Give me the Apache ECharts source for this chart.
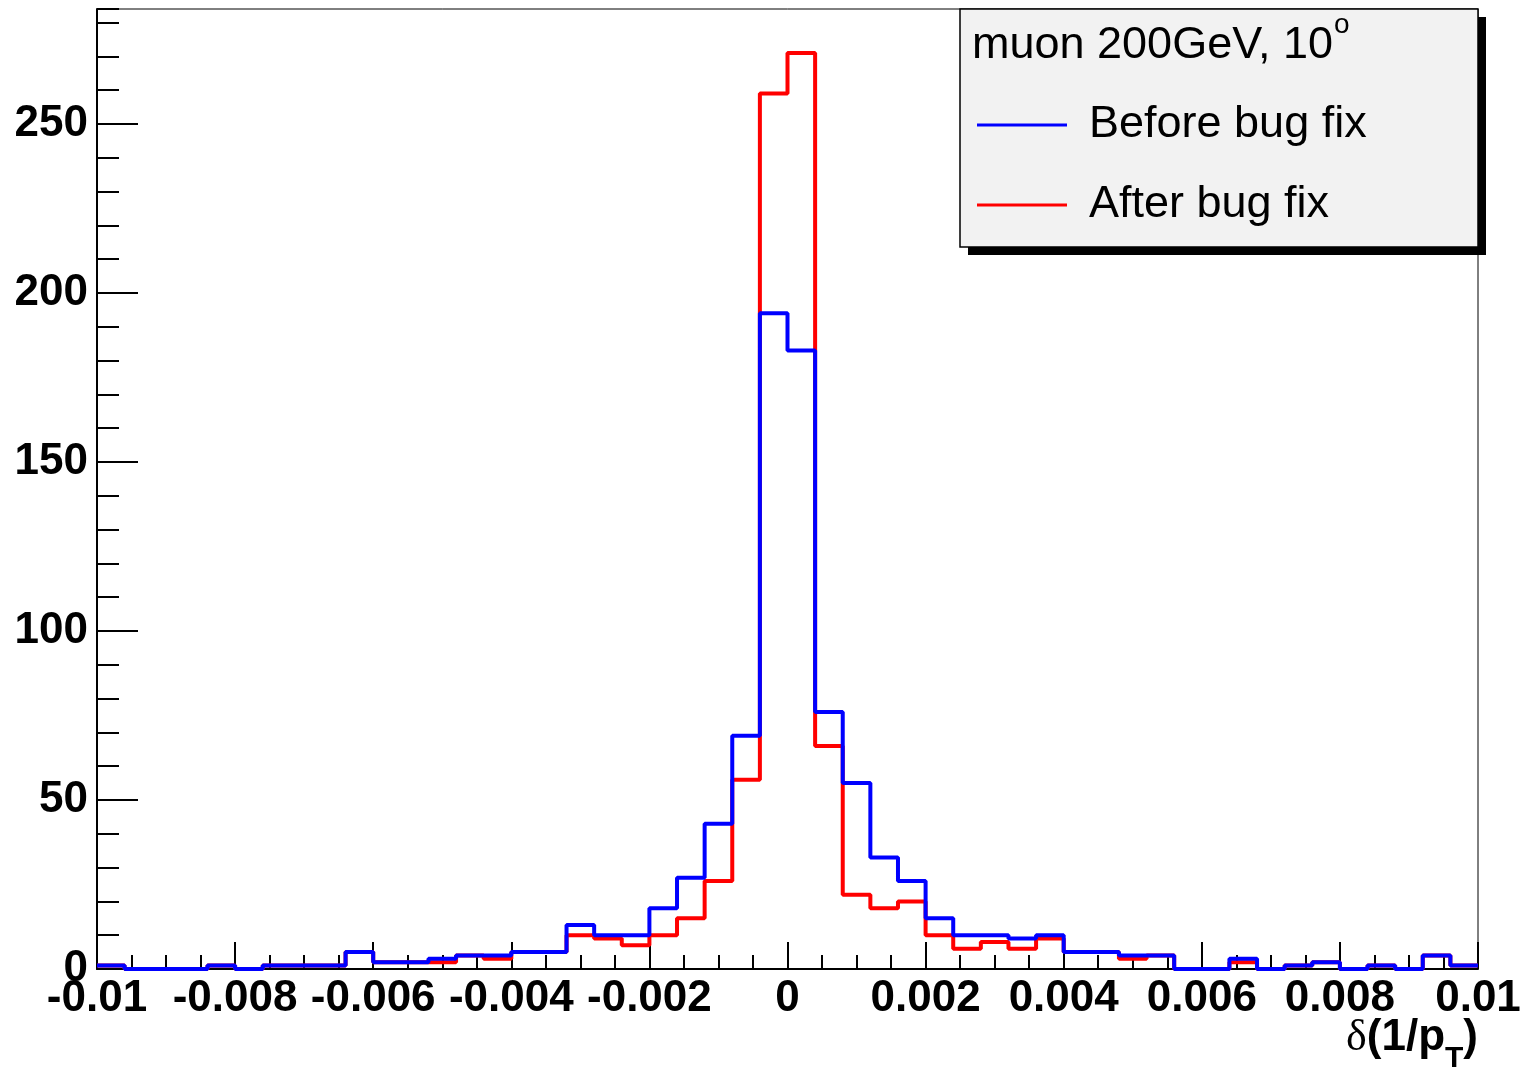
<!DOCTYPE html>
<html>
<head>
<meta charset="utf-8">
<script src="https://cdn.jsdelivr.net/npm/echarts@6/dist/echarts.min.js"></script>
<style>
  html, body { margin: 0; padding: 0; background: #fff; }
  #chart { width: 1526px; height: 1071px; }
</style>
</head>
<body>
<div id="chart"></div>
<script>
// Histogram binning: 50 equal bins over [-0.01, 0.01]
const X_MIN = -0.01;
const X_MAX = 0.01;
const BIN_WIDTH = 0.0004;
const Y_MAX = 284;

// Bin contents, delta(1/pT) resolution, muon 200 GeV at 10 degrees
const beforeFix = [
  1, 0, 0, 0, 1, 0, 1, 1, 1, 5,
  2, 2, 3, 4, 4, 5, 5, 13, 10, 10,
  18, 27, 43, 69, 194, 183, 76, 55, 33, 26,
  15, 10, 10, 9, 10, 5, 5, 4, 4, 0,
  0, 3, 0, 1, 2, 0, 1, 0, 4, 1
];
const afterFix = [
  1, 0, 0, 0, 1, 0, 1, 1, 1, 5,
  2, 2, 2, 4, 3, 5, 5, 10, 9, 7,
  10, 15, 26, 56, 259, 271, 66, 22, 18, 20,
  10, 6, 8, 6, 9, 5, 5, 3, 4, 0,
  0, 2, 0, 1, 2, 0, 1, 0, 4, 1
];

const seriesNames = ['Before bug fix', 'After bug fix'];
const legendTitle = 'muon 200GeV, 10';
const legendTitleSup = 'o';

// Step outline: one point per bin low edge, plus the upper edge of the last bin
function stepPoints(counts) {
  const pts = counts.map((c, i) => [X_MIN + i * BIN_WIDTH, c]);
  pts.push([X_MAX, counts[counts.length - 1]]);
  return pts;
}

const SANS = 'Liberation Sans, Arial, Helvetica, sans-serif';
const SERIF = 'Liberation Serif, DejaVu Serif, serif';

const chart = echarts.init(document.getElementById('chart'), null, { renderer: 'canvas' });

chart.setOption({
  animation: false,
  backgroundColor: '#fff',
  grid: {
    left: 97, right: 48, top: 9, bottom: 102,
    show: true, borderColor: '#000', borderWidth: 1, backgroundColor: 'transparent'
  },
  xAxis: {
    type: 'value',
    min: X_MIN, max: X_MAX, interval: 0.002,
    axisLine: { show: true, onZero: false, lineStyle: { color: '#000', width: 2 } },
    axisTick: { show: true, inside: true, length: 27, lineStyle: { color: '#000', width: 2 } },
    minorTick: { show: true, splitNumber: 4, length: 14, lineStyle: { color: '#000', width: 2 } },
    splitLine: { show: false },
    minorSplitLine: { show: false },
    axisLabel: {
      color: '#000', fontFamily: SANS, fontWeight: 'bold', fontSize: 44, margin: 8,
      formatter: v => String(Math.round(v * 1e4) / 1e4)
    }
  },
  yAxis: [
    {
      type: 'value', min: 0, max: Y_MAX, interval: 50,
      axisLine: { show: true, onZero: false, lineStyle: { color: '#000', width: 2 } },
      axisTick: { show: true, inside: true, length: 41, lineStyle: { color: '#000', width: 2 } },
      splitLine: { show: false },
      axisLabel: {
        color: '#000', fontFamily: SANS, fontWeight: 'bold', fontSize: 44, margin: 9,
        showMaxLabel: false
      }
    },
    {
      // minor ticks every 10 counts
      type: 'value', min: 0, max: Y_MAX, interval: 10, position: 'left',
      axisLine: { show: false, onZero: false },
      axisTick: { show: true, inside: true, length: 22, lineStyle: { color: '#000', width: 2 } },
      splitLine: { show: false },
      axisLabel: { show: false }
    }
  ],
  legend: {
    orient: 'vertical',
    left: 972, top: 95,
    itemWidth: 90, itemHeight: 3, itemGap: 30,
    icon: 'rect',
    data: seriesNames,
    backgroundColor: 'transparent',
    textStyle: {
      color: '#000', fontFamily: SANS, fontSize: 45, lineHeight: 50,
      padding: [0, 0, 0, 17]
    },
    z: 8
  },
  series: [
    {
      name: seriesNames[1],
      type: 'line', step: 'end', symbol: 'none', clip: false,
      yAxisIndex: 0,
      data: stepPoints(afterFix),
      lineStyle: { color: '#ff0000', width: 4 },
      itemStyle: { color: '#ff0000' },
      z: 2
    },
    {
      name: seriesNames[0],
      type: 'line', step: 'end', symbol: 'none', clip: false,
      yAxisIndex: 0,
      data: stepPoints(beforeFix),
      lineStyle: { color: '#0000ff', width: 4 },
      itemStyle: { color: '#0000ff' },
      z: 3
    }
  ],
  graphic: [
    // legend box with drop shadow
    { type: 'rect', z: 5, shape: { x: 968, y: 17, width: 518, height: 238 }, style: { fill: '#000' } },
    { type: 'rect', z: 6, shape: { x: 960, y: 9, width: 518, height: 238 },
      style: { fill: '#f2f2f2', stroke: '#000', lineWidth: 1.5 } },
    {
      type: 'text', z: 7, left: 972, top: 11,
      style: {
        text: '{t|' + legendTitle + '}{sup|' + legendTitleSup + '}',
        rich: {
          t: { fontFamily: SANS, fontSize: 45, lineHeight: 45, color: '#000', verticalAlign: 'top', padding: [12, 0, 0, 0] },
          sup: { fontFamily: SANS, fontSize: 28, lineHeight: 28, color: '#000', verticalAlign: 'top', padding: [0, 0, 0, 1] }
        }
      }
    },
    // x-axis title: delta(1/p_T)
    {
      type: 'text', z: 7, right: 48, top: 1016,
      style: {
        text: '{d|δ}{b|(1/p}{s|T}{b|)}',
        rich: {
          d: { fontFamily: SERIF, fontSize: 44, lineHeight: 44, color: '#000', verticalAlign: 'top' },
          b: { fontFamily: SANS, fontWeight: 'bold', fontSize: 44, lineHeight: 44, color: '#000', verticalAlign: 'top' },
          s: { fontFamily: SANS, fontWeight: 'bold', fontSize: 30, lineHeight: 30, color: '#000', verticalAlign: 'top', padding: [28, 0, 0, 0] }
        }
      }
    }
  ]
});
</script>
</body>
</html>
